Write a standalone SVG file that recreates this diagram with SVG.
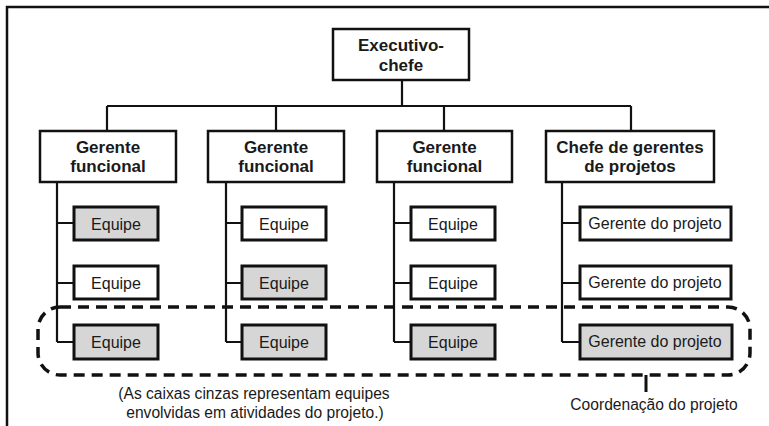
<svg xmlns="http://www.w3.org/2000/svg" width="769" height="426" viewBox="0 0 769 426">
  <style>
    .frame { fill: none; stroke: #111; stroke-width: 2.5; }
    .box { fill: #fff; stroke: #111; stroke-width: 2.5; }
    .team { fill: #fff; stroke: #111; stroke-width: 3; }
    .team.gray { fill: #d6d6d6; }
    .link { fill: none; stroke: #111; stroke-width: 2.2; }
    .title { font-family: "Liberation Sans", Arial, sans-serif; font-weight: bold; font-size: 17px; fill: #1a1a1a; text-anchor: middle; }
    .label { font-family: "Liberation Sans", Arial, sans-serif; font-size: 16px; fill: #1a1a1a; text-anchor: middle; }
    .note { font-family: "Liberation Sans", Arial, sans-serif; font-size: 15.6px; fill: #1a1a1a; text-anchor: middle; }
    .coord { fill: none; stroke: #111; stroke-width: 3.5; stroke-dasharray: 11 7; }
  </style>

  <!-- open frame: top and left edges -->
  <path class="frame" d="M7 426 V7 H769"/>

  <g id="connectors">
    <!-- executive to managers -->
    <path class="link" d="M402 80 V106 M107 106 H631 M107 106 V131 M276 106 V131 M444 106 V131 M631 106 V131"/>
    <!-- column 1 -->
    <path class="link" d="M57 182 V342 M57 223 H74 M57 283 H74 M57 342 H74"/>
    <!-- column 2 -->
    <path class="link" d="M226 182 V342 M226 223 H242 M226 283 H242 M226 342 H242"/>
    <!-- column 3 -->
    <path class="link" d="M394 182 V342 M394 223 H411 M394 283 H411 M394 342 H411"/>
    <!-- column 4 -->
    <path class="link" d="M562 182 V342 M562 223 H580 M562 283 H580 M562 342 H580"/>
  </g>

  <g id="executivo-chefe">
    <rect class="box" x="333" y="29" width="136" height="51"/>
    <text class="title" x="401" y="51">Executivo-</text>
    <text class="title" x="401" y="71">chefe</text>
  </g>

  <g id="gerente-funcional-1">
    <rect class="box" x="40" y="131" width="136" height="51"/>
    <text class="title" x="108" y="153">Gerente</text>
    <text class="title" x="108" y="172">funcional</text>
  </g>
  <g id="gerente-funcional-2">
    <rect class="box" x="208" y="131" width="136" height="51"/>
    <text class="title" x="276" y="153">Gerente</text>
    <text class="title" x="276" y="172">funcional</text>
  </g>
  <g id="gerente-funcional-3">
    <rect class="box" x="377" y="131" width="135" height="51"/>
    <text class="title" x="444.5" y="153">Gerente</text>
    <text class="title" x="444.5" y="172">funcional</text>
  </g>
  <g id="chefe-gerentes">
    <rect class="box" x="546" y="131" width="168" height="51"/>
    <text class="title" x="630" y="153">Chefe de gerentes</text>
    <text class="title" x="630" y="172">de projetos</text>
  </g>

  <!-- column 1 teams -->
  <g id="equipe-1-1">
    <rect class="team gray" x="74" y="207" width="84" height="33"/>
    <text class="label" x="116" y="230">Equipe</text>
  </g>
  <g id="equipe-1-2">
    <rect class="team" x="74" y="266" width="84" height="33"/>
    <text class="label" x="116" y="289">Equipe</text>
  </g>
  <g id="equipe-1-3">
    <rect class="team gray" x="74" y="325" width="84" height="34"/>
    <text class="label" x="116" y="348">Equipe</text>
  </g>

  <!-- column 2 teams -->
  <g id="equipe-2-1">
    <rect class="team" x="242" y="207" width="84" height="33"/>
    <text class="label" x="284" y="230">Equipe</text>
  </g>
  <g id="equipe-2-2">
    <rect class="team gray" x="242" y="266" width="84" height="33"/>
    <text class="label" x="284" y="289">Equipe</text>
  </g>
  <g id="equipe-2-3">
    <rect class="team gray" x="242" y="325" width="84" height="34"/>
    <text class="label" x="284" y="348">Equipe</text>
  </g>

  <!-- column 3 teams -->
  <g id="equipe-3-1">
    <rect class="team" x="411" y="207" width="84" height="33"/>
    <text class="label" x="453" y="230">Equipe</text>
  </g>
  <g id="equipe-3-2">
    <rect class="team" x="411" y="266" width="84" height="33"/>
    <text class="label" x="453" y="289">Equipe</text>
  </g>
  <g id="equipe-3-3">
    <rect class="team gray" x="411" y="325" width="84" height="34"/>
    <text class="label" x="453" y="348">Equipe</text>
  </g>

  <!-- column 4 project managers -->
  <g id="gerente-projeto-1">
    <rect class="team" x="580" y="207" width="151" height="33"/>
    <text class="label" x="655" y="229">Gerente do projeto</text>
  </g>
  <g id="gerente-projeto-2">
    <rect class="team" x="580" y="266" width="151" height="33"/>
    <text class="label" x="655" y="288">Gerente do projeto</text>
  </g>
  <g id="gerente-projeto-3">
    <rect class="team gray" x="580" y="325" width="152" height="34"/>
    <text class="label" x="655" y="347">Gerente do projeto</text>
  </g>

  <!-- project coordination outline -->
  <g id="coordenacao">
    <rect class="coord" x="38" y="307" width="712" height="68" rx="22" ry="22"/>
    <line x1="646" y1="375" x2="646" y2="392" stroke="#111" stroke-width="3"/>
    <text class="note" x="654" y="410">Coordenação do projeto</text>
  </g>

  <g id="legenda">
    <text class="note" x="254" y="399">(As caixas cinzas representam equipes</text>
    <text class="note" x="255" y="418">envolvidas em atividades do projeto.)</text>
  </g>
</svg>
